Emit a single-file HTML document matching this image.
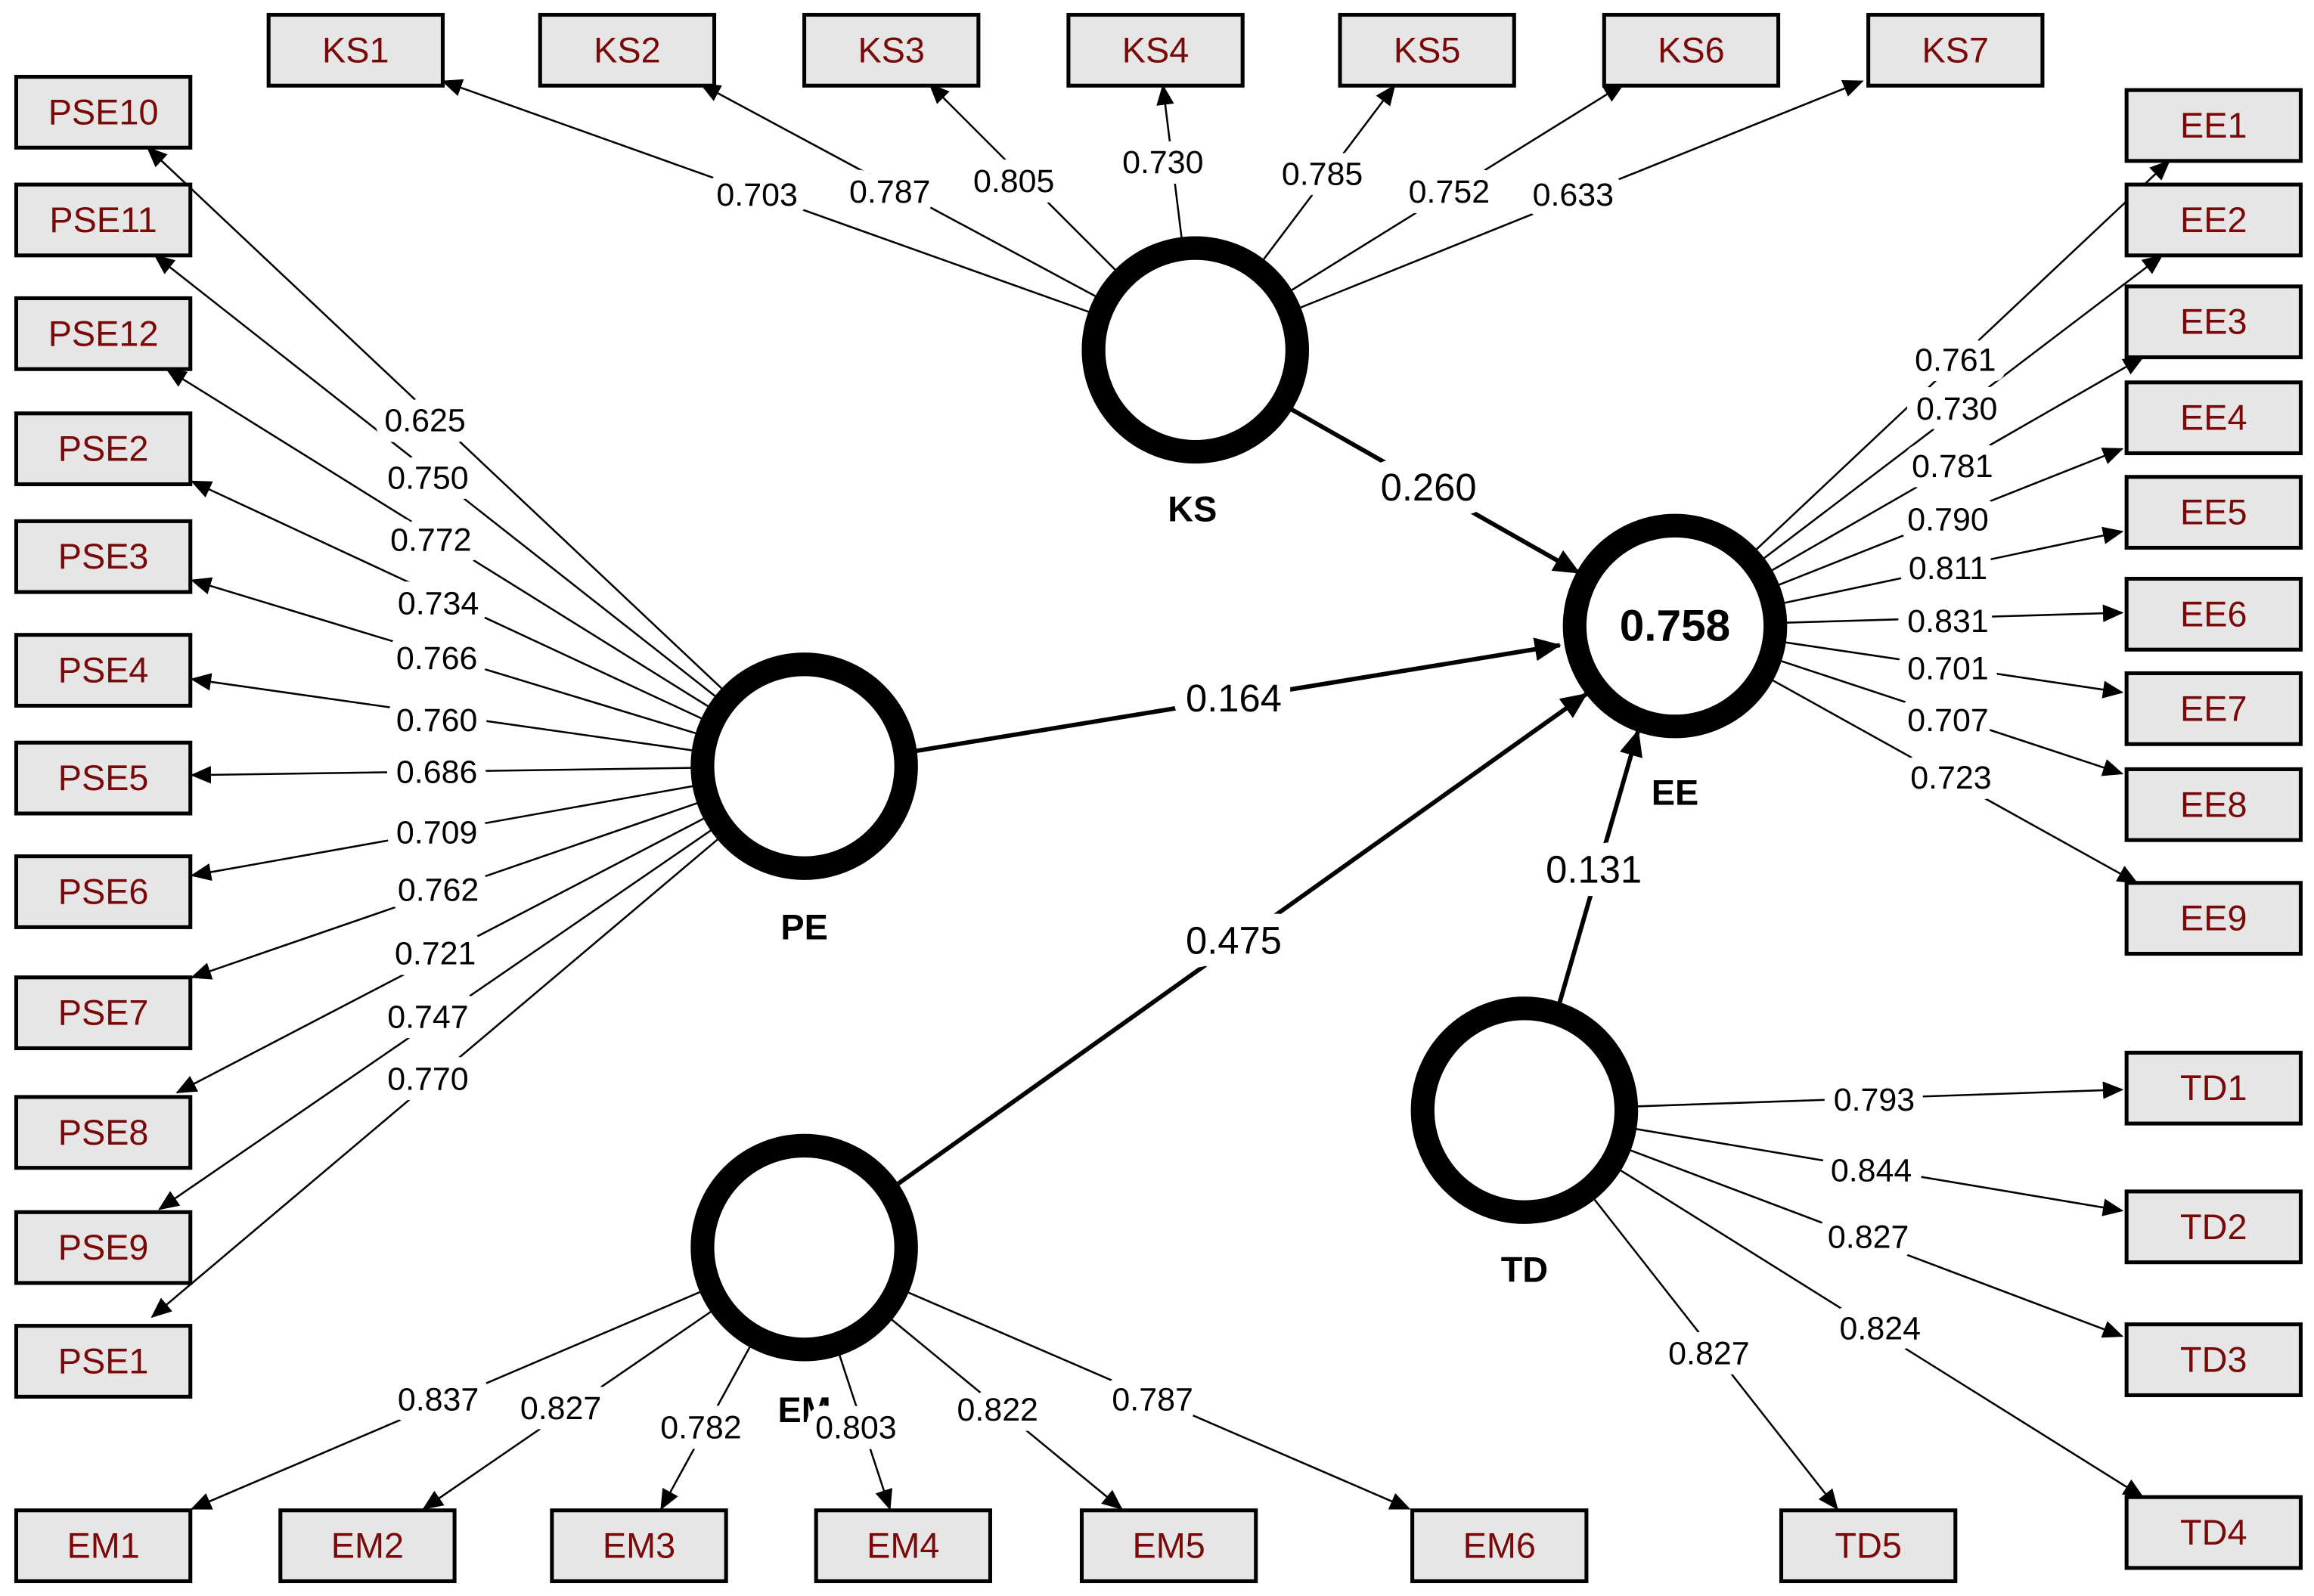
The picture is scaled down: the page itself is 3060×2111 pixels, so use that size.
<!DOCTYPE html>
<html><head><meta charset="utf-8"><style>
html,body{margin:0;padding:0;background:#fff;}
svg{display:block;}
.box{fill:#e6e6e6;stroke:#000;stroke-width:2.6;}
.bt{font-family:"Liberation Sans",sans-serif;font-size:24px;fill:#7a0a0a;text-anchor:middle;dominant-baseline:central;}
.ld{stroke:#000;stroke-width:1.3;fill:none;marker-end:url(#a);}
.st{stroke:#000;stroke-width:3;fill:none;marker-end:url(#b);}
.lt{font-family:"Liberation Sans",sans-serif;font-size:22px;fill:#000;text-anchor:middle;dominant-baseline:central;paint-order:stroke;stroke:#fff;stroke-width:14px;stroke-linejoin:round;}
.sl{font-size:26px;stroke-width:18px;}
.cir{fill:#fff;stroke:#000;stroke-width:16;}
.cn{font-family:"Liberation Sans",sans-serif;font-size:24px;font-weight:bold;text-anchor:middle;dominant-baseline:central;}
</style></head><body>
<svg width="3060" height="2111" viewBox="0 0 1568 1081" preserveAspectRatio="none" xmlns="http://www.w3.org/2000/svg">
<defs>
<marker id="a" markerUnits="userSpaceOnUse" markerWidth="14" markerHeight="12" refX="13" refY="6" orient="auto"><path d="M0,0 L14,6 L0,12 z" fill="#000"/></marker>
<marker id="b" markerUnits="userSpaceOnUse" markerWidth="18" markerHeight="16" refX="17" refY="8" orient="auto"><path d="M0,0 L18,8 L0,16 z" fill="#000"/></marker>
</defs>

<line class="ld" x1="810" y1="237" x2="300" y2="55"/>
<line class="ld" x1="810" y1="237" x2="475" y2="57"/>
<line class="ld" x1="810" y1="237" x2="630" y2="57"/>
<line class="ld" x1="810" y1="237" x2="788" y2="58"/>
<line class="ld" x1="810" y1="237" x2="945" y2="58"/>
<line class="ld" x1="810" y1="237" x2="1100" y2="57"/>
<line class="ld" x1="810" y1="237" x2="1262" y2="55"/>
<line class="ld" x1="545" y1="519" x2="100" y2="100"/>
<line class="ld" x1="545" y1="519" x2="105" y2="173"/>
<line class="ld" x1="545" y1="519" x2="113" y2="250"/>
<line class="ld" x1="545" y1="519" x2="130" y2="326"/>
<line class="ld" x1="545" y1="519" x2="130" y2="393"/>
<line class="ld" x1="545" y1="519" x2="130" y2="460"/>
<line class="ld" x1="545" y1="519" x2="130" y2="525"/>
<line class="ld" x1="545" y1="519" x2="130" y2="593"/>
<line class="ld" x1="545" y1="519" x2="130" y2="662"/>
<line class="ld" x1="545" y1="519" x2="120" y2="740"/>
<line class="ld" x1="545" y1="519" x2="108" y2="819"/>
<line class="ld" x1="545" y1="519" x2="103" y2="892"/>
<line class="ld" x1="1135" y1="424" x2="1470" y2="109"/>
<line class="ld" x1="1135" y1="424" x2="1465" y2="173"/>
<line class="ld" x1="1135" y1="424" x2="1452" y2="242"/>
<line class="ld" x1="1135" y1="424" x2="1438" y2="304"/>
<line class="ld" x1="1135" y1="424" x2="1438" y2="360"/>
<line class="ld" x1="1135" y1="424" x2="1438" y2="415"/>
<line class="ld" x1="1135" y1="424" x2="1438" y2="469"/>
<line class="ld" x1="1135" y1="424" x2="1438" y2="524"/>
<line class="ld" x1="1135" y1="424" x2="1448" y2="598"/>
<line class="ld" x1="1033" y1="752" x2="1438" y2="738"/>
<line class="ld" x1="1033" y1="752" x2="1438" y2="820"/>
<line class="ld" x1="1033" y1="752" x2="1438" y2="905"/>
<line class="ld" x1="1033" y1="752" x2="1452" y2="1014"/>
<line class="ld" x1="1033" y1="752" x2="1245" y2="1022"/>
<line class="ld" x1="545" y1="845" x2="130" y2="1022"/>
<line class="ld" x1="545" y1="845" x2="287" y2="1022"/>
<line class="ld" x1="545" y1="845" x2="448" y2="1022"/>
<line class="ld" x1="545" y1="845" x2="603" y2="1022"/>
<line class="ld" x1="545" y1="845" x2="760" y2="1022"/>
<line class="ld" x1="545" y1="845" x2="955" y2="1022"/>
<line class="st" x1="850" y1="263" x2="1070" y2="388"/>
<line class="st" x1="600" y1="512" x2="1057" y2="437"/>
<line class="st" x1="590" y1="815" x2="1075" y2="470"/>
<line class="st" x1="1045" y1="720" x2="1110" y2="495"/>

<circle class="cir" cx="810" cy="237" r="69"/>
<circle class="cir" cx="545" cy="519" r="69"/>
<circle class="cir" cx="1135" cy="424" r="68"/>
<circle class="cir" cx="1033" cy="752" r="69"/>
<circle class="cir" cx="545" cy="845" r="69"/>
<text class="cn" x="1135" y="424" style="font-size:30px">0.758</text>
<text class="cn" x="808" y="345">KS</text>
<text class="cn" x="545" y="628">PE</text>
<text class="cn" x="1135" y="537">EE</text>
<text class="cn" x="1033" y="860">TD</text>
<text class="cn" x="545" y="955">EM</text>

<g>
<text class="lt" x="513" y="132">0.703</text>
<text class="lt" x="603" y="130">0.787</text>
<text class="lt" x="687" y="123">0.805</text>
<text class="lt" x="788" y="110">0.730</text>
<text class="lt" x="896" y="118">0.785</text>
<text class="lt" x="982" y="130">0.752</text>
<text class="lt" x="1066" y="132">0.633</text>
<text class="lt" x="288" y="285">0.625</text>
<text class="lt" x="290" y="324">0.750</text>
<text class="lt" x="292" y="366">0.772</text>
<text class="lt" x="297" y="409">0.734</text>
<text class="lt" x="296" y="446">0.766</text>
<text class="lt" x="296" y="488">0.760</text>
<text class="lt" x="296" y="523">0.686</text>
<text class="lt" x="296" y="564">0.709</text>
<text class="lt" x="297" y="603">0.762</text>
<text class="lt" x="295" y="646">0.721</text>
<text class="lt" x="290" y="689">0.747</text>
<text class="lt" x="290" y="731">0.770</text>
<text class="lt" x="1325" y="244">0.761</text>
<text class="lt" x="1326" y="277">0.730</text>
<text class="lt" x="1323" y="316">0.781</text>
<text class="lt" x="1320" y="352">0.790</text>
<text class="lt" x="1320" y="385">0.811</text>
<text class="lt" x="1320" y="421">0.831</text>
<text class="lt" x="1320" y="453">0.701</text>
<text class="lt" x="1320" y="488">0.707</text>
<text class="lt" x="1322" y="527">0.723</text>
<text class="lt" x="1270" y="745">0.793</text>
<text class="lt" x="1268" y="793">0.844</text>
<text class="lt" x="1266" y="838">0.827</text>
<text class="lt" x="1274" y="900">0.824</text>
<text class="lt" x="1158" y="917">0.827</text>
<text class="lt" x="297" y="948">0.837</text>
<text class="lt" x="380" y="954">0.827</text>
<text class="lt" x="475" y="967">0.782</text>
<text class="lt" x="580" y="967">0.803</text>
<text class="lt" x="676" y="955">0.822</text>
<text class="lt" x="781" y="948">0.787</text>
<text class="lt sl" x="968" y="330">0.260</text>
<text class="lt sl" x="836" y="473">0.164</text>
<text class="lt sl" x="836" y="637">0.475</text>
<text class="lt sl" x="1080" y="589">0.131</text>
</g>

<g>
<rect class="box" x="182" y="10" width="118" height="48"/><text class="bt" x="241" y="34">KS1</text>
<rect class="box" x="366" y="10" width="118" height="48"/><text class="bt" x="425" y="34">KS2</text>
<rect class="box" x="545" y="10" width="118" height="48"/><text class="bt" x="604" y="34">KS3</text>
<rect class="box" x="724" y="10" width="118" height="48"/><text class="bt" x="783" y="34">KS4</text>
<rect class="box" x="908" y="10" width="118" height="48"/><text class="bt" x="967" y="34">KS5</text>
<rect class="box" x="1087" y="10" width="118" height="48"/><text class="bt" x="1146" y="34">KS6</text>
<rect class="box" x="1266" y="10" width="118" height="48"/><text class="bt" x="1325" y="34">KS7</text>
<rect class="box" x="11" y="52" width="118" height="48"/><text class="bt" x="70" y="76">PSE10</text>
<rect class="box" x="11" y="125" width="118" height="48"/><text class="bt" x="70" y="149">PSE11</text>
<rect class="box" x="11" y="202" width="118" height="48"/><text class="bt" x="70" y="226">PSE12</text>
<rect class="box" x="11" y="280" width="118" height="48"/><text class="bt" x="70" y="304">PSE2</text>
<rect class="box" x="11" y="353" width="118" height="48"/><text class="bt" x="70" y="377">PSE3</text>
<rect class="box" x="11" y="430" width="118" height="48"/><text class="bt" x="70" y="454">PSE4</text>
<rect class="box" x="11" y="503" width="118" height="48"/><text class="bt" x="70" y="527">PSE5</text>
<rect class="box" x="11" y="580" width="118" height="48"/><text class="bt" x="70" y="604">PSE6</text>
<rect class="box" x="11" y="662" width="118" height="48"/><text class="bt" x="70" y="686">PSE7</text>
<rect class="box" x="11" y="743" width="118" height="48"/><text class="bt" x="70" y="767">PSE8</text>
<rect class="box" x="11" y="821" width="118" height="48"/><text class="bt" x="70" y="845">PSE9</text>
<rect class="box" x="11" y="898" width="118" height="48"/><text class="bt" x="70" y="922">PSE1</text>
<rect class="box" x="1441" y="61" width="118" height="48"/><text class="bt" x="1500" y="85">EE1</text>
<rect class="box" x="1441" y="125" width="118" height="48"/><text class="bt" x="1500" y="149">EE2</text>
<rect class="box" x="1441" y="194" width="118" height="48"/><text class="bt" x="1500" y="218">EE3</text>
<rect class="box" x="1441" y="259" width="118" height="48"/><text class="bt" x="1500" y="283">EE4</text>
<rect class="box" x="1441" y="323" width="118" height="48"/><text class="bt" x="1500" y="347">EE5</text>
<rect class="box" x="1441" y="392" width="118" height="48"/><text class="bt" x="1500" y="416">EE6</text>
<rect class="box" x="1441" y="456" width="118" height="48"/><text class="bt" x="1500" y="480">EE7</text>
<rect class="box" x="1441" y="521" width="118" height="48"/><text class="bt" x="1500" y="545">EE8</text>
<rect class="box" x="1441" y="598" width="118" height="48"/><text class="bt" x="1500" y="622">EE9</text>
<rect class="box" x="1441" y="713" width="118" height="48"/><text class="bt" x="1500" y="737">TD1</text>
<rect class="box" x="1441" y="807" width="118" height="48"/><text class="bt" x="1500" y="831">TD2</text>
<rect class="box" x="1441" y="897" width="118" height="48"/><text class="bt" x="1500" y="921">TD3</text>
<rect class="box" x="1441" y="1014" width="118" height="48"/><text class="bt" x="1500" y="1038">TD4</text>
<rect class="box" x="1207" y="1023" width="118" height="48"/><text class="bt" x="1266" y="1047">TD5</text>
<rect class="box" x="11" y="1023" width="118" height="48"/><text class="bt" x="70" y="1047">EM1</text>
<rect class="box" x="190" y="1023" width="118" height="48"/><text class="bt" x="249" y="1047">EM2</text>
<rect class="box" x="374" y="1023" width="118" height="48"/><text class="bt" x="433" y="1047">EM3</text>
<rect class="box" x="553" y="1023" width="118" height="48"/><text class="bt" x="612" y="1047">EM4</text>
<rect class="box" x="733" y="1023" width="118" height="48"/><text class="bt" x="792" y="1047">EM5</text>
<rect class="box" x="957" y="1023" width="118" height="48"/><text class="bt" x="1016" y="1047">EM6</text>
</g>
</svg>
</body></html>
